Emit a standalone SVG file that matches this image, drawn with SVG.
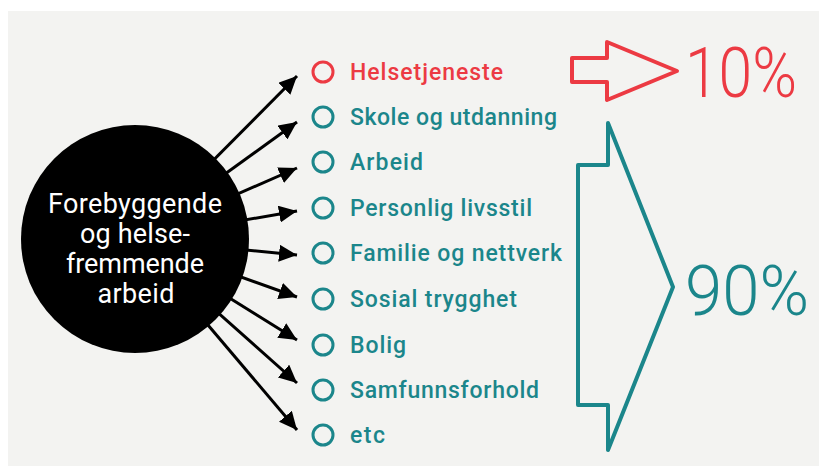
<svg xmlns="http://www.w3.org/2000/svg" width="820" height="466" viewBox="0 0 820 466">
  <defs>
    <marker id="ah" markerUnits="userSpaceOnUse" markerWidth="19" markerHeight="17" refX="18" refY="8.5" orient="auto">
      <path d="M0,0 L18,8.5 L0,17 Z" fill="#000"/>
    </marker>
    <style>
      .conn { stroke: #000; stroke-width: 3; fill: none; marker-end: url(#ah); }
      .hub-text { font-family: Roboto, "Liberation Sans", sans-serif; font-size: 27px; fill: #fff; text-anchor: middle; }
      .item { font-family: Roboto, "Liberation Sans", sans-serif; font-size: 23px; font-weight: 500; }
      .red { fill: #ec3a43; }
      .teal { fill: #1b868b; }
      .dot { stroke-width: 3; }
      .dot.red { stroke: #ec3a43; fill: none; }
      .dot.teal { stroke: #1b868b; fill: none; }
      .big { font-family: Roboto, "Liberation Sans", sans-serif; font-size: 70px; font-weight: 300; }
    </style>
  </defs>
  <rect x="0" y="0" width="820" height="466" fill="#ffffff"/>
  <rect x="8" y="11" width="811" height="455" fill="#f3f3f1"/>

  <g id="connectors">
    <line class="conn" x1="135" y1="239" x2="297" y2="76"/>
    <line class="conn" x1="135" y1="239" x2="297" y2="122"/>
    <line class="conn" x1="135" y1="239" x2="297" y2="168"/>
    <line class="conn" x1="135" y1="239" x2="297" y2="211"/>
    <line class="conn" x1="135" y1="239" x2="297" y2="255"/>
    <line class="conn" x1="135" y1="239" x2="297" y2="297"/>
    <line class="conn" x1="135" y1="239" x2="297" y2="340"/>
    <line class="conn" x1="135" y1="239" x2="297" y2="383"/>
    <line class="conn" x1="135" y1="239" x2="297" y2="430"/>
  </g>

  <g id="hub">
    <circle cx="135" cy="239" r="114" fill="#000"/>
    <text class="hub-text" x="135" y="213" textLength="174" lengthAdjust="spacing">Forebyggende</text>
    <text class="hub-text" x="135" y="243" textLength="110" lengthAdjust="spacing">og helse-</text>
    <text class="hub-text" x="135" y="273" textLength="138" lengthAdjust="spacing">fremmende</text>
    <text class="hub-text" x="136" y="303" textLength="77" lengthAdjust="spacing">arbeid</text>
  </g>

  <g id="item-helsetjeneste">
    <circle class="dot red" cx="323" cy="72" r="10"/>
    <text class="item red" x="350" y="80" textLength="153" lengthAdjust="spacing">Helsetjeneste</text>
  </g>
  <g id="item-skole">
    <circle class="dot teal" cx="323" cy="117" r="10"/>
    <text class="item teal" x="350" y="125" textLength="207" lengthAdjust="spacing">Skole og utdanning</text>
  </g>
  <g id="item-arbeid">
    <circle class="dot teal" cx="323" cy="162" r="10"/>
    <text class="item teal" x="350" y="170" textLength="73" lengthAdjust="spacing">Arbeid</text>
  </g>
  <g id="item-personlig">
    <circle class="dot teal" cx="323" cy="208" r="10"/>
    <text class="item teal" x="350" y="216" textLength="182" lengthAdjust="spacing">Personlig livsstil</text>
  </g>
  <g id="item-familie">
    <circle class="dot teal" cx="323" cy="253" r="10"/>
    <text class="item teal" x="350" y="261" textLength="212" lengthAdjust="spacing">Familie og nettverk</text>
  </g>
  <g id="item-sosial">
    <circle class="dot teal" cx="323" cy="299" r="10"/>
    <text class="item teal" x="350" y="307" textLength="167" lengthAdjust="spacing">Sosial trygghet</text>
  </g>
  <g id="item-bolig">
    <circle class="dot teal" cx="323" cy="345" r="10"/>
    <text class="item teal" x="350" y="353" textLength="56" lengthAdjust="spacing">Bolig</text>
  </g>
  <g id="item-samfunn">
    <circle class="dot teal" cx="323" cy="390" r="10"/>
    <text class="item teal" x="350" y="398" textLength="189" lengthAdjust="spacing">Samfunnsforhold</text>
  </g>
  <g id="item-etc">
    <circle class="dot teal" cx="323" cy="435" r="10"/>
    <text class="item teal" x="350" y="443" textLength="35" lengthAdjust="spacing">etc</text>
  </g>

  <g id="arrow-10">
    <polygon points="572,58 607,58 607,42 677,71 607,100 607,82 572,82" fill="none" stroke="#ec3a43" stroke-width="4" stroke-linejoin="round"/>
    <text class="big red" x="685" y="97" textLength="112" lengthAdjust="spacingAndGlyphs">10%</text>
  </g>
  <g id="arrow-90">
    <polygon points="578,165 608,165 608,123 673,287 608,450 608,405 578,405" fill="none" stroke="#1b868b" stroke-width="4" stroke-linejoin="round"/>
    <text class="big teal" x="685" y="315" textLength="124" lengthAdjust="spacingAndGlyphs">90%</text>
  </g>
</svg>
